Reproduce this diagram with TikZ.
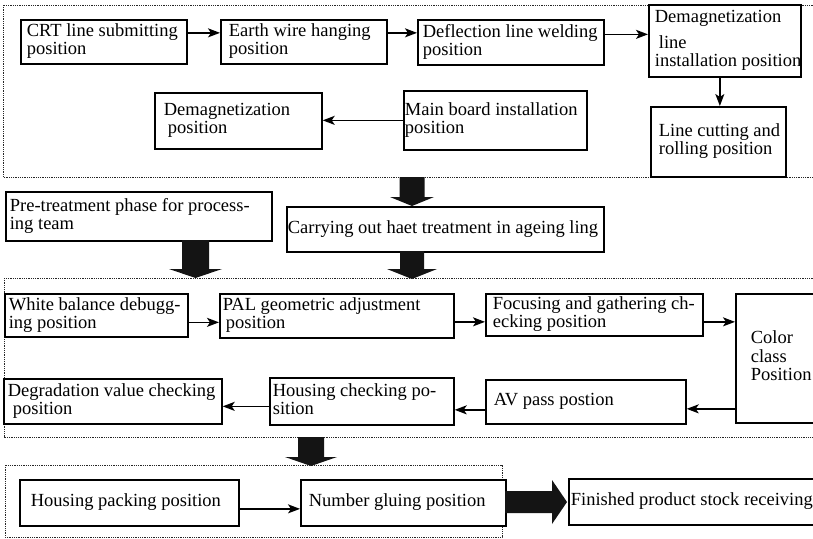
\documentclass[tikz,border=0pt]{standalone}
\usepackage{fontspec}
\setmainfont{Liberation Serif}
\usetikzlibrary{arrows.meta}
\tikzset{
  bx/.style={draw=black, line width=1.7pt, fill=white, inner ysep=0pt,
    font={\fontsize{18.5}{18}\selectfont}},
  arr/.style={line width=1.6pt, -{Stealth[length=12pt,width=9pt,inset=3pt]}},
  grp/.style={line width=0.9pt, draw=black!85, dash pattern=on 0.9pt off 0.9pt},
  fat/.style={fill=black!92, draw=none}
}
\newcommand\bbox[7]{%
  \pgfmathsetmacro\bw{#4-#2}\pgfmathsetmacro\bh{#5-#3}\pgfmathsetmacro\tw{#4-#2-2*#6}%
  \node[bx, anchor=north west, minimum width=\bw pt, minimum height=\bh pt,
        inner xsep=#6pt] (#1) at (#2,#3)
        {\makebox[\tw pt][l]{\begin{tabular}{@{}l@{}}#7\end{tabular}}};}
\begin{document}
\begin{tikzpicture}[x=1pt,y=-1pt]
\useasboundingbox (0,0) rectangle (813,538);
\clip (0,0) rectangle (813,538);
\fill[white] (0,0) rectangle (813,538);
% groups
\draw[grp] (3,5) rectangle (840,177);
\draw[grp] (4,278) rectangle (840,437);
\draw[grp] (5,465) rectangle (502,537);
% row 1
\bbox{crt}{20}{19}{186}{63}{6}{CRT line submitting\\position}
\bbox{earth}{220}{19}{386}{63}{8}{Earth wire hanging\\position}
\bbox{defl}{417}{19}{603}{64}{5}{Deflection line welding\\position}
\bbox{dml}{648}{4}{800}{76}{6}{Demagnetization\\[8pt]\hspace*{4pt}line\\installation position}
\bbox{lcr}{650}{106}{785}{176}{8}{Line cutting and\\rolling position}
\bbox{main}{403}{90}{586}{149}{1}{Main board installation\\position}
\bbox{demag}{154}{92}{321}{148}{9}{Demagnetization\\\hspace*{4pt}position}
% middle
\bbox{pre}{5}{191}{271}{240}{4}{Pre-treatment phase for process-\\ing team}
\bbox{carry}{286}{206}{603}{251}{1}{Carrying out haet treatment in ageing ling}
% row 2
\bbox{wb}{4}{293}{187}{336}{4}{White balance debugg-\\ing position}
\bbox{pal}{219}{293}{453}{337}{3}{PAL geometric adjustment\\\hspace*{3pt}position}
\bbox{foc}{485}{293}{702}{335}{7}{Focusing and gathering ch-\\ecking position}
\bbox{col}{735}{293}{900}{422}{15}{Color\\class\\Position}
\bbox{av}{485}{379}{685}{423}{8}{AV pass postion}
\bbox{hc}{269}{377}{453}{424}{3}{Housing checking po-\\sition}
\bbox{deg}{3}{378}{221}{423}{4}{Degradation value checking\\\hspace*{5pt}position}
% row 3
\bbox{hp}{19}{479}{238}{525}{11}{Housing packing position}
\bbox{ng}{300}{479}{505}{525}{8}{Number gluing position}
\bbox{fin}{568}{478}{900}{524}{2}{Finished product stock receiving}
% thin arrows
\draw[arr] ([yshift=9pt]crt.east) -- ([yshift=9pt]crt.east -| earth.west);
\draw[arr] ([yshift=9pt]earth.east) -- ([yshift=9pt]earth.east -| defl.west);
\draw[arr] ([yshift=8pt]defl.east) -- ([yshift=8pt]defl.east -| dml.west);
\draw[arr] ([xshift=-5pt]dml.south) -- ([xshift=-5pt]dml.south |- lcr.north);
\draw[arr] (main.west) -- (main.west -| demag.east);
\draw[arr] ([yshift=-7pt]wb.east) -- ([yshift=-7pt]wb.east -| pal.west);
\draw[arr] ([yshift=-6pt]pal.east) -- ([yshift=-6pt]pal.east -| foc.west);
\draw[arr] ([yshift=-7pt]foc.east) -- ([yshift=-7pt]foc.east -| col.west);
\draw[arr] ([yshift=-7pt]av.east -| col.west) -- ([yshift=-7pt]av.east);
\draw[arr] ([yshift=-8pt]av.west) -- ([yshift=-8pt]av.west -| hc.east);
\draw[arr] ([yshift=-5pt]hc.west) -- ([yshift=-5pt]hc.west -| deg.east);
\draw[arr] ([yshift=-6pt]hp.east) -- ([yshift=-6pt]hp.east -| ng.west);
% fat arrows
\fill[fat] (399.5,177) -- (424.5,177) -- (424.5,197) -- (434,197) -- (412,206) -- (390,197) -- (399.5,197) -- cycle;
\fill[fat] (400,251) -- (424,251) -- (424,269) -- (437,269) -- (412,279) -- (387,269) -- (400,269) -- cycle;
\fill[fat] (182,240) -- (209,240) -- (209,269) -- (222,269) -- (195.5,278) -- (169,269) -- (182,269) -- cycle;
\fill[fat] (298,437) -- (324,437) -- (324,457) -- (337,457) -- (311,466) -- (285,457) -- (298,457) -- cycle;
\fill[fat] (505,491) -- (552,491) -- (552,480) -- (567,502) -- (552,524) -- (552,513) -- (505,513) -- cycle;
\end{tikzpicture}
\end{document}
